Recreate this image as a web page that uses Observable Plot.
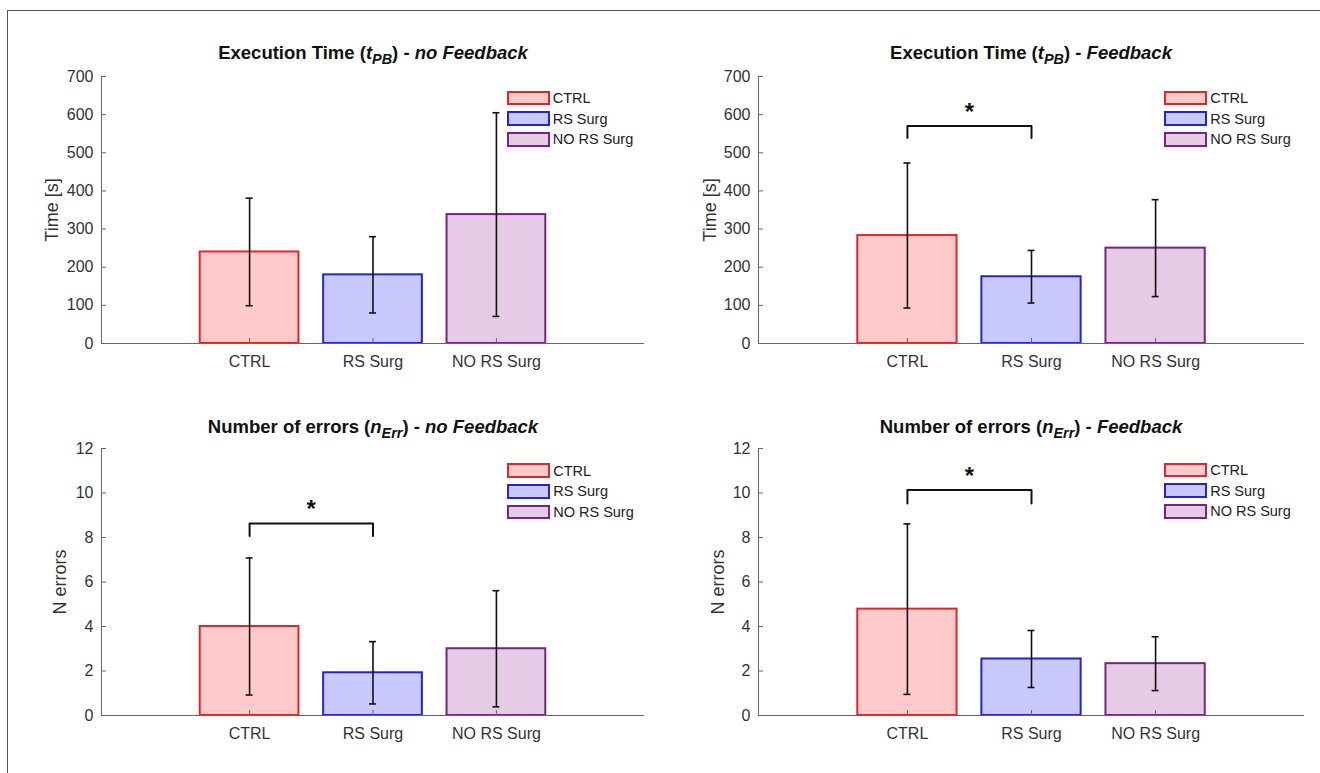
<!DOCTYPE html>
<html><head><meta charset="utf-8">
<script src="https://cdn.jsdelivr.net/npm/d3@7"></script>
<script src="https://cdn.jsdelivr.net/npm/@observablehq/plot@0.6"></script>
<style>
html,body{margin:0;padding:0;background:#fff;}
#root{position:relative;width:1320px;height:773px;overflow:hidden;font-family:"Liberation Sans",Arial,sans-serif;}
.frame{position:absolute;left:7px;top:10px;width:1400px;height:900px;border-top:1px solid #555;border-left:1px solid #555;}
.panel{position:absolute;}
.panel svg{overflow:visible;}
.title{position:absolute;transform:translateX(-50%);font-weight:bold;font-size:18.5px;line-height:1;white-space:nowrap;color:#111;}
.title .sub{font-size:0.78em;vertical-align:-0.38em;line-height:1;}
.ylab{position:absolute;transform:translate(-50%,-50%) rotate(-90deg);font-size:18px;line-height:1;white-space:nowrap;color:#333;}
.legbox{position:absolute;width:39px;height:10.7px;border:2px solid;}
.legtxt{position:absolute;font-size:14.5px;line-height:1;white-space:nowrap;color:#222;transform:translateY(-50%);}
</style>
</head><body><div id="root"><div class="frame"></div></div>
<script>
// ---- data ----
const categories = ["CTRL", "RS Surg", "NO RS Surg"];
const timeNoFbMean = [240, 180, 338];
const timeNoFbSd = [141, 100, 267];
const timeFbMean = [283, 175, 250];
const timeFbSd = [190, 69, 127];
const errNoFbMean = [4.0, 1.92, 3.0];
const errNoFbSd = [3.08, 1.40, 2.61];
const errFbMean = [4.78, 2.54, 2.33];
const errFbSd = [3.83, 1.28, 1.21];
const timeTicks = [0, 100, 200, 300, 400, 500, 600, 700];
const errTicks = [0, 2, 4, 6, 8, 10, 12];
const sigTimeNoFb = [];
const sigTimeFb = [{a: 1, b: 2, top: 570, foot: 539}];
const sigErrNoFb = [{a: 1, b: 2, top: 8.63, foot: 8.07}];
const sigErrFb = [{a: 1, b: 2, top: 10.14, foot: 9.53}];
const fills = ["#ffcaca", "#c9c9ff", "#e5cbe5"];
const strokes = ["#e1262b", "#2424d6", "#7a2286"];

// ---- layout ----
const panels = [
  {means: timeNoFbMean, sds: timeNoFbSd, sig: sigTimeNoFb, ticks: timeTicks, ydom: [0, 700],
   left: 0, top: 0, w: 660, h: 390, ml: 101, mr: 16, mt: 76, mb: 47,
   title: 'Execution Time (<i>t</i><span class="sub"><i>PB</i></span>) - <i>no Feedback</i>', tx: 373, ty: 44.3,
   ylab: "Time [s]", lx: 52, ly: 209.5, legX: 506.7, legY: 90.7},
  {means: timeFbMean, sds: timeFbSd, sig: sigTimeFb, ticks: timeTicks, ydom: [0, 700],
   left: 660, top: 0, w: 660, h: 390, ml: 98, mr: 16, mt: 76, mb: 47,
   title: 'Execution Time (<i>t</i><span class="sub"><i>PB</i></span>) - <i>Feedback</i>', tx: 1031, ty: 44.3,
   ylab: "Time [s]", lx: 709.5, ly: 209.5, legX: 1164.2, legY: 90.7},
  {means: errNoFbMean, sds: errNoFbSd, sig: sigErrNoFb, ticks: errTicks, ydom: [0, 12],
   left: 0, top: 390, w: 660, h: 383, ml: 101, mr: 16, mt: 58, mb: 58,
   title: 'Number of errors (<i>n</i><span class="sub"><i>Err</i></span>) - <i>no Feedback</i>', tx: 373, ty: 417.7,
   ylab: "N errors", lx: 60, ly: 581.5, legX: 507.2, legY: 463.3},
  {means: errFbMean, sds: errFbSd, sig: sigErrFb, ticks: errTicks, ydom: [0, 12],
   left: 660, top: 390, w: 660, h: 383, ml: 98, mr: 16, mt: 58, mb: 58,
   title: 'Number of errors (<i>n</i><span class="sub"><i>Err</i></span>) - <i>Feedback</i>', tx: 1031, ty: 417.7,
   ylab: "N errors", lx: 718, ly: 581.5, legX: 1164.2, legY: 462.7}
];

const root = document.getElementById("root");
const xDom = [-0.2, 4.2];

for (const p of panels) {
  const rows = categories.map((c, i) => ({pos: i + 1, cat: c, mean: p.means[i],
    lo: p.means[i] - p.sds[i], hi: p.means[i] + p.sds[i], fill: fills[i], stroke: strokes[i]}));
  const bracketPts = p.sig.flatMap(s => [
    {x: s.a, y: s.foot, k: 0}, {x: s.a, y: s.top, k: 0}, {x: s.b, y: s.top, k: 0}, {x: s.b, y: s.foot, k: 0}]);
  const chart = Plot.plot({
    width: p.w, height: p.h,
    marginLeft: p.ml, marginRight: p.mr, marginTop: p.mt, marginBottom: p.mb,
    x: {domain: xDom},
    y: {domain: p.ydom},
    color: {type: "identity"},
    style: {fontFamily: '"Liberation Sans", Arial, sans-serif', fontSize: "16px", background: "transparent", color: "#333"},
    marks: [
      Plot.rectY(rows, {x1: d => d.pos - 0.4, x2: d => d.pos + 0.4, y1: 0, y2: "mean",
        fill: "fill", stroke: "stroke", strokeWidth: 2}),
      Plot.ruleX(rows, {x: "pos", y1: "lo", y2: "hi", stroke: "#111", strokeWidth: 1.6}),
      Plot.ruleY(rows, {y: "lo", x1: d => d.pos - 0.028, x2: d => d.pos + 0.028, stroke: "#111", strokeWidth: 1.6}),
      Plot.ruleY(rows, {y: "hi", x1: d => d.pos - 0.028, x2: d => d.pos + 0.028, stroke: "#111", strokeWidth: 1.6}),
      Plot.line(bracketPts, {x: "x", y: "y", z: "k", stroke: "#111", strokeWidth: 2}),
      Plot.text(p.sig, {x: d => (d.a + d.b) / 2, y: "top", text: () => "*", fontSize: 24, fontWeight: "bold",
        fill: "#111", lineAnchor: "middle", dy: -14}),
      Plot.ruleY([0], {stroke: "#666"}),
      Plot.ruleX([xDom[0]], {y1: p.ydom[0], y2: p.ydom[1], stroke: "#666"}),
      Plot.axisY({ticks: p.ticks, tickSize: -5, tickPadding: 13, label: null, stroke: "#666", fill: "#333"}),
      Plot.axisX({ticks: [1, 2, 3], tickFormat: d => categories[d - 1], tickSize: -5, tickPadding: 17,
        label: null, stroke: "#666", fill: "#333"})
    ]
  });
  const holder = document.createElement("div");
  holder.className = "panel";
  holder.style.left = p.left + "px";
  holder.style.top = p.top + "px";
  holder.appendChild(chart);
  root.appendChild(holder);

  const t = document.createElement("div");
  t.className = "title";
  t.style.left = p.tx + "px";
  t.style.top = p.ty + "px";
  t.innerHTML = p.title;
  root.appendChild(t);

  const yl = document.createElement("div");
  yl.className = "ylab";
  yl.style.left = p.lx + "px";
  yl.style.top = p.ly + "px";
  yl.textContent = p.ylab;
  root.appendChild(yl);

  categories.forEach((c, i) => {
    const b = document.createElement("div");
    b.className = "legbox";
    b.style.left = p.legX + "px";
    b.style.top = (p.legY + i * 20.6) + "px";
    b.style.background = fills[i];
    b.style.borderColor = strokes[i];
    root.appendChild(b);
    const tx = document.createElement("div");
    tx.className = "legtxt";
    tx.style.left = (p.legX + 46) + "px";
    tx.style.top = (p.legY + i * 20.6 + 7.4) + "px";
    tx.textContent = c;
    root.appendChild(tx);
  });
}
</script>
</body></html>
